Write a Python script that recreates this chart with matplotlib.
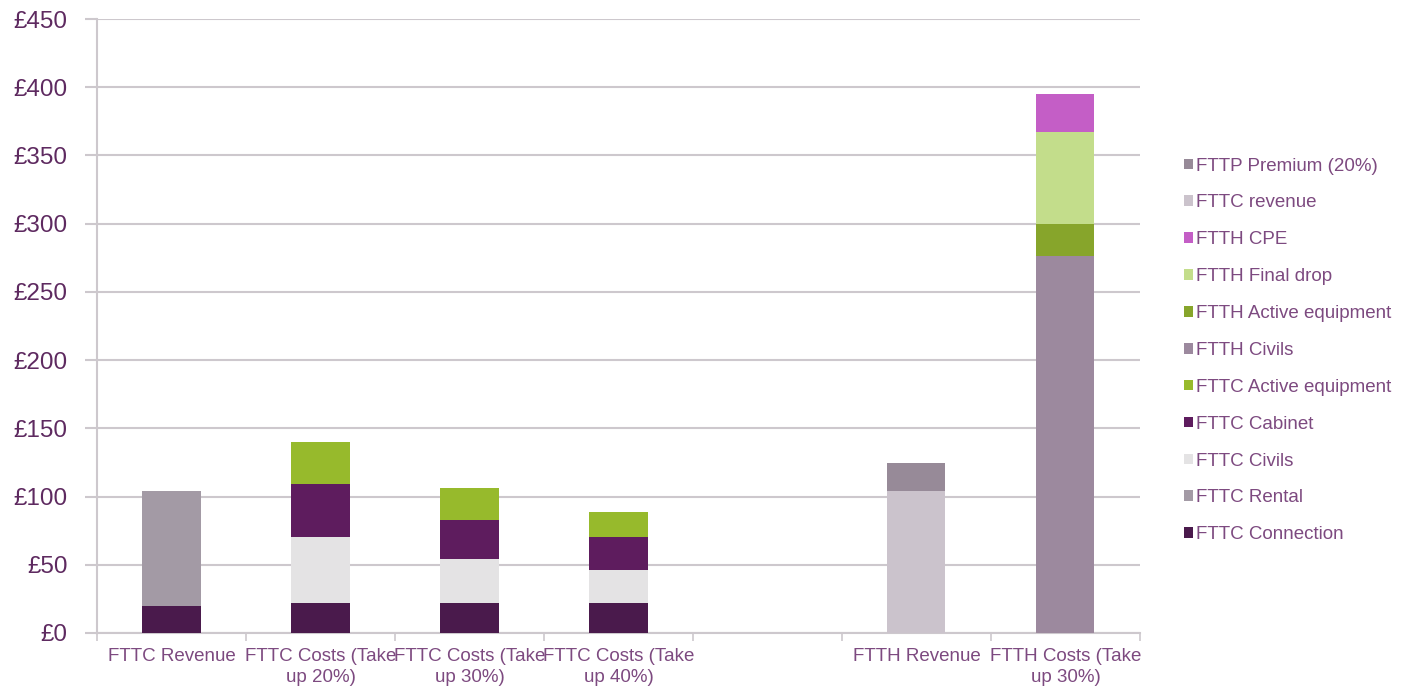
import numpy as np
import matplotlib.pyplot as plt
from matplotlib.patches import Patch

plt.rcParams['font.family'] = ['Liberation Sans', 'DejaVu Sans']

# categories (one empty slot between FTTC and FTTH groups)
categories = ["FTTC Revenue", "FTTC Costs (Take\nup 20%)", "FTTC Costs (Take\nup 30%)",
              "FTTC Costs (Take\nup 40%)", "", "FTTH Revenue", "FTTH Costs (Take\nup 30%)"]

# series values, bottom to top of the stack
fttc_connection = [20, 22, 22, 22, 0, 0, 0]
fttc_rental = [84, 0, 0, 0, 0, 0, 0]
fttc_civils = [0, 48, 32, 24, 0, 0, 0]
fttc_cabinet = [0, 39, 29, 24, 0, 0, 0]
fttc_active = [0, 31, 23, 19, 0, 0, 0]
ftth_civils = [0, 0, 0, 0, 0, 0, 276]
ftth_active = [0, 0, 0, 0, 0, 0, 24]
ftth_final_drop = [0, 0, 0, 0, 0, 0, 67]
ftth_cpe = [0, 0, 0, 0, 0, 0, 28]
fttc_revenue = [0, 0, 0, 0, 0, 104, 0]
fttp_premium = [0, 0, 0, 0, 0, 20.8, 0]

series = [
    ("FTTC Connection", fttc_connection, "#4a1a4c"),
    ("FTTC Rental", fttc_rental, "#a39aa5"),
    ("FTTC Civils", fttc_civils, "#e4e3e4"),
    ("FTTC Cabinet", fttc_cabinet, "#5e1c5e"),
    ("FTTC Active equipment", fttc_active, "#97ba2c"),
    ("FTTH Civils", ftth_civils, "#9c899e"),
    ("FTTH Active equipment", ftth_active, "#87a52b"),
    ("FTTH Final drop", ftth_final_drop, "#c3dd8b"),
    ("FTTH CPE", ftth_cpe, "#c45ec6"),
    ("FTTC revenue", fttc_revenue, "#cbc3cc"),
    ("FTTP Premium (20%)", fttp_premium, "#978a98"),
]

yticks = np.arange(0, 451, 50)
label_col = "#5e2a60"
text_col = "#7d4a80"
grid_col = "#cdc8cd"

fig = plt.figure(figsize=(14.04, 6.86), dpi=100)
ax = fig.add_axes([0.0691, 0.0773, 0.7428, 0.895])

x = np.arange(len(categories))
bottom = np.zeros(len(categories))
handles = []
for name, vals, col in series:
    vals = np.array(vals, dtype=float)
    ax.bar(x, vals, width=0.39, bottom=bottom, color=col, zorder=3)
    bottom += vals
    handles.append(Patch(facecolor=col, label=name))

ax.set_xlim(-0.5, len(categories) - 0.5)
ax.set_ylim(0, 450)
ax.set_yticks(yticks)
ax.set_yticklabels(["£%d" % v for v in yticks], fontsize=17.5, color=label_col)
ax.yaxis.grid(True, color=grid_col, linewidth=1.5, zorder=0)
ax.tick_params(axis="y", length=9, color=grid_col, width=1.5, pad=12)

# category boundaries as ticks, labels centred under bars
ax.set_xticks(np.arange(len(categories) + 1) - 0.5)
ax.set_xticklabels([])
ax.tick_params(axis="x", length=6, color=grid_col, width=1.2)
for i, c in enumerate(categories):
    ax.text(i, -11, c, ha="center", va="top", fontsize=13.5, color=text_col,
            linespacing=1.3, transform=ax.transData)

for s in ["top", "right"]:
    ax.spines[s].set_visible(False)
ax.spines["left"].set_color(grid_col)
ax.spines["left"].set_linewidth(1.5)
ax.spines["bottom"].set_color(grid_col)
ax.spines["bottom"].set_linewidth(1.5)

leg = fig.legend(handles=handles[::-1], loc="upper left", bbox_to_anchor=(0.831, 0.795),
                 frameon=False, fontsize=13.5, handlelength=0.5, handleheight=0.5,
                 handletextpad=0.15, labelspacing=1.06)
for t in leg.get_texts():
    t.set_color(text_col)

fig.savefig("out.png", dpi=100)
